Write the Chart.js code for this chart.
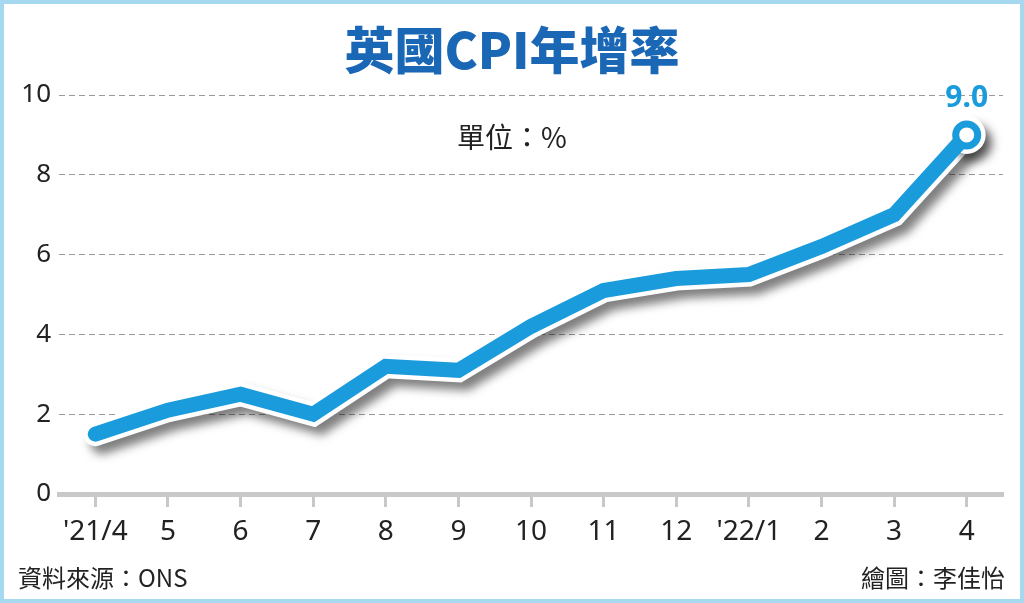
<!DOCTYPE html>
<html>
<head>
<meta charset="utf-8">
<script src="https://cdn.jsdelivr.net/npm/chart.js@4/dist/chart.umd.min.js"></script>
<style>
  html, body { margin: 0; padding: 0; background: #fff; }
  #wrap { width: 1024px; height: 603px; }
</style>
</head>
<body>
<div id="wrap"><canvas id="Chart" width="1024" height="603"></canvas></div>
<script>
// 月份標籤
const month_labels = ["'21/4", "5", "6", "7", "8", "9", "10", "11", "12", "'22/1", "2", "3", "4"];
// 英國CPI年增率(%)
const cpi_values = [1.5, 2.1, 2.5, 2.0, 3.2, 3.1, 4.2, 5.1, 5.4, 5.5, 6.2, 7.0, 9.0];
// Y軸刻度
const y_ticks = [0, 2, 4, 6, 8, 10];

const blue = '#1a9bdc';
const lastIdx = cpi_values.length - 1;

// 最後一點才畫圓圈
const outlineRadius = cpi_values.map((v, i) => i === lastIdx ? 19 : 0);
const pointRadius = cpi_values.map((v, i) => i === lastIdx ? 11 : 0);

const cnFont = "'Noto Sans CJK TC', 'Noto Sans', sans-serif";
const numFont = "'Noto Sans', sans-serif";

// 白邊線加陰影
const shadowPlugin = {
	id: 'shadow',
	beforeDatasetDraw(chart, args) {
		if (args.index === 0) {
			const ctx = chart.ctx;
			ctx.save();
			ctx.shadowColor = 'rgba(0,0,0,0.5)';
			ctx.shadowBlur = 10;
			ctx.shadowOffsetX = 7;
			ctx.shadowOffsetY = 8;
		}
	},
	afterDatasetDraw(chart, args) {
		if (args.index === 0) chart.ctx.restore();
	}
};

// 文字：標題、單位、數值標籤、資料來源、外框
const textPlugin = {
	id: 'texts',
	afterDraw(chart) {
		const ctx = chart.ctx;
		ctx.save();
		ctx.textBaseline = 'middle';

		ctx.fillStyle = '#1a67b5';
		ctx.font = "900 50px " + cnFont;
		ctx.textAlign = 'center';
		ctx.fillText('英國CPI年增率', 512, 50);

		ctx.fillStyle = '#222';
		ctx.font = "28px " + cnFont;
		ctx.fillText('單位：%', 512, 137);

		const pt = chart.getDatasetMeta(1).data[lastIdx];
		ctx.fillStyle = blue;
		ctx.font = "bold 30px " + numFont;
		ctx.fillText(cpi_values[lastIdx].toFixed(1), pt.x, pt.y - 36);

		ctx.fillStyle = '#222';
		ctx.font = "24px " + cnFont;
		ctx.textAlign = 'left';
		ctx.fillText('資料來源：ONS', 18, 578);
		ctx.textAlign = 'right';
		ctx.fillText('繪圖：李佳怡', 1005, 578);

		ctx.strokeStyle = '#a6d9f0';
		ctx.lineWidth = 4;
		ctx.strokeRect(2, 2, 1020, 599);
		ctx.restore();
	}
};

let lineCtx = document.getElementById("Chart");
let lineConfig = {
	type: 'line',
	data: {
		labels: month_labels,
		datasets: [{
			// 白色外框 (先畫)
			data: cpi_values,
			order: 2,
			borderColor: '#fff',
			borderWidth: 24,
			borderCapStyle: 'round',
			borderJoinStyle: 'miter',
			pointRadius: outlineRadius,
			pointBackgroundColor: '#fff',
			pointBorderWidth: 0,
			tension: 0,
		}, {
			data: cpi_values,
			order: 1,
			borderColor: blue,
			borderWidth: 15,
			borderCapStyle: 'round',
			borderJoinStyle: 'miter',
			pointRadius: pointRadius,
			pointBackgroundColor: '#fff',
			pointBorderColor: blue,
			pointBorderWidth: 7,
			tension: 0,
		}],
	},
	options: {
		responsive: false,
		animation: false,
		devicePixelRatio: 1,
		layout: { padding: { top: 95, left: 14, right: 21, bottom: 39 } },
		plugins: {
			legend: { display: false },
			title: { display: false },
			tooltip: { enabled: false },
		},
		scales: {
			x: {
				offset: true,
				grid: {
					offset: false,
					drawOnChartArea: false,
					drawTicks: true,
					tickLength: 13,
					tickWidth: 3,
					tickColor: '#c8c8c8',
				},
				border: { display: true, color: '#c8c8c8', width: 5 },
				ticks: {
					color: '#222',
					padding: 8,
					maxRotation: 0,
					autoSkip: false,
					font: { family: numFont, size: 28 },
				},
				afterFit(scale) { scale.height = 70; },
			},
			y: {
				min: 0,
				max: 10,
				afterBuildTicks(scale) { scale.ticks = y_ticks.map(v => ({ value: v })); },
				grid: {
					drawTicks: false,
					color: '#9a9a9a',
					lineWidth: 1,
				},
				border: { display: false, dash: [6, 4] },
				ticks: {
					color: '#222',
					padding: 8,
					font: { family: numFont, size: 26 },
				},
				afterFit(scale) { scale.width = 45; },
			}
		},
	},
	plugins: [shadowPlugin, textPlugin],
};
let lineChart = new Chart(lineCtx, lineConfig);
</script>
</body>
</html>
